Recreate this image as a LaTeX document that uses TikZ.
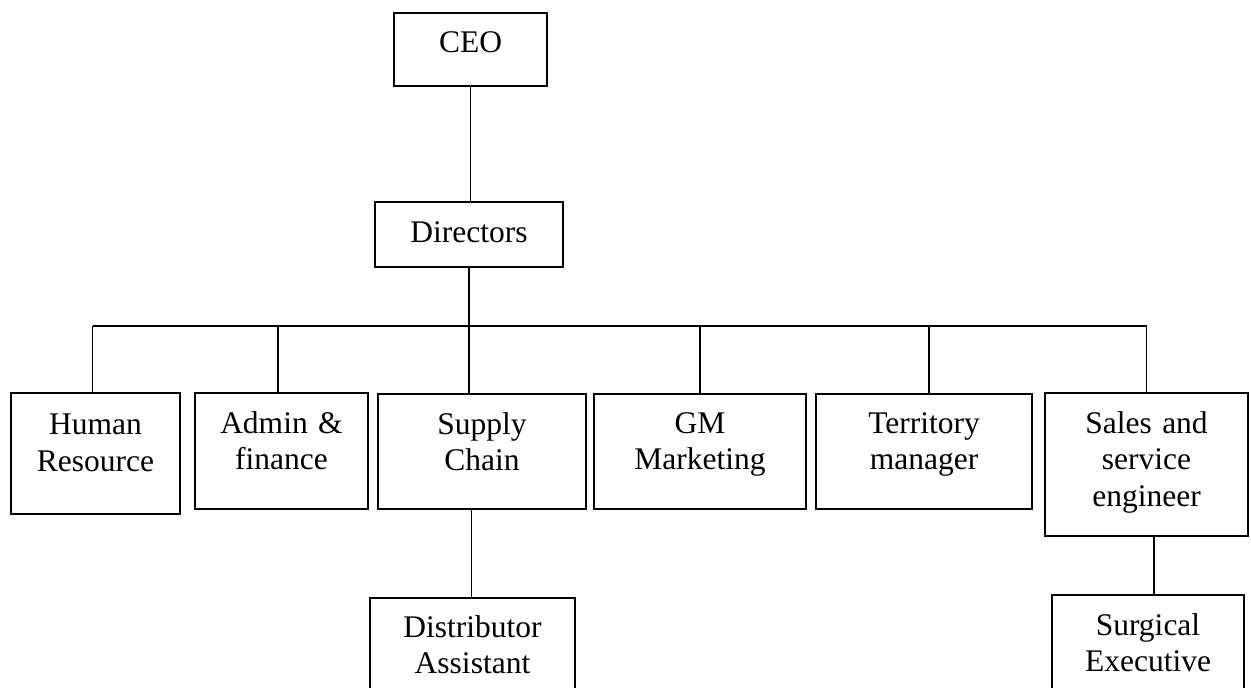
\documentclass[tikz,border=0pt]{standalone}
\usepackage{fontspec}
\setmainfont{Liberation Serif}
\begin{document}
\begin{tikzpicture}
  [x=1pt,y=-1pt,
   every node/.style={draw,line width=2.2pt,inner sep=0pt,align=center,
     font=\fontsize{31.5}{36.5}\selectfont},
   link/.style={line width=1.1pt}]
  \useasboundingbox (0,0) rectangle (1251,688);
  \clip (0,0) rectangle (1251,688);

  % top of the tree
  \node (ceo) at (470.5,49.5) [text width=153pt,text height=39.7pt,text depth=33.3pt] {CEO};
  \node (dir) at (469,234.5)  [text width=188pt,text height=40pt,text depth=25pt] {Directors};

  % departments
  \node (hr)    at (95.5,453.5)  [text width=169pt,text height=41.5pt,text depth=79.5pt] {Human\\Resource};
  \node (adm)   at (281.5,451)   [text width=173pt,text height=40pt,text depth=76pt] {Admin \&\\finance};
  \node (sc)    at (482,451.5)   [text width=208pt,text height=40pt,text depth=75pt] {Supply\\Chain};
  \node (gm)    at (700,451.5)   [text width=212pt,text height=39pt,text depth=76pt] {GM\\Marketing};
  \node (ter)   at (924,451.5)   [text width=216pt,text height=39pt,text depth=76pt] {Territory\\manager};
  \node (sales) at (1146.5,464.5) [text width=203pt,text height=40pt,text depth=103pt] {Sales and\\service\\engineer};

  % bottom row
  \node (dist) at (472.5,659)  [text width=205pt,text height=39.3pt,text depth=82.7pt] {Distributor\\Assistant};
  \node (surg) at (1148,657.5) [text width=192pt,text height=40pt,text depth=85pt] {Surgical\\Executive};

  \coordinate (bus) at (470,326);
  \draw[link] (ceo.south) -- (ceo.south |- dir.north);
  \draw[link] (dir.south) -- (dir.south |- sc.north);
  \draw[link] ([xshift=-2.8pt]hr.north |- bus) -- ([xshift=.2pt]sales.north |- bus);
  \foreach \dept/\dx in {hr/-2.8,adm/-3.5,gm/0,ter/5,sales/0.2}
    \draw[link] ([xshift=\dx pt]\dept.north) -- ([xshift=\dx pt]\dept.north |- bus);
  \draw[link] ([xshift=-1pt]dist.north) -- ([xshift=-1pt]dist.north |- sc.south);
  \draw[link] ([xshift=6pt]surg.north) -- ([xshift=6pt]surg.north |- sales.south);

\end{tikzpicture}
\end{document}
